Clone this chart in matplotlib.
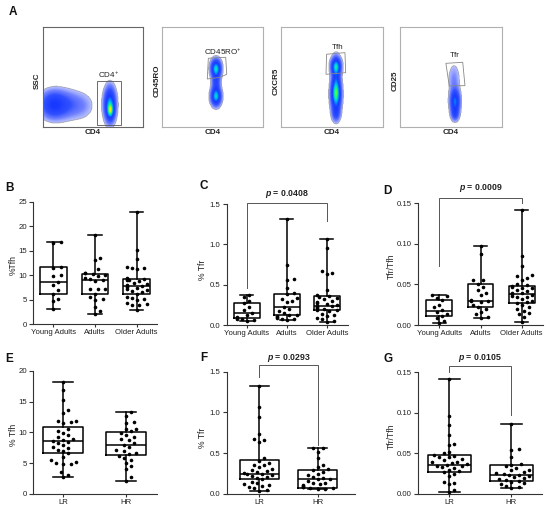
import numpy as np
import matplotlib
matplotlib.use('Agg')
import matplotlib.pyplot as plt
from matplotlib.colors import LinearSegmentedColormap
from matplotlib.patches import Polygon

plt.rcParams['font.family'] = ['Liberation Sans', 'DejaVu Sans']
plt.rcParams['mathtext.fontset'] = 'custom'
plt.rcParams['mathtext.rm'] = 'Liberation Sans'
plt.rcParams['mathtext.it'] = 'Liberation Sans:italic:bold'
plt.rcParams['mathtext.bf'] = 'Liberation Sans:bold'

W, H = 550, 515

# ---------------- data ----------------
age_groups = ['Young Adults', 'Adults', 'Older Adults']
risk_groups = ['LR', 'HR']

# B: %Tfh by age
tfh_young = [16.8, 16.6, 11.7, 11.5, 10.0, 9.8, 8.6, 8.0, 7.0, 6.1, 5.2, 4.7, 3.2]
tfh_adults = [18.2, 13.6, 13.1, 11.2, 10.5, 10.4, 10.3, 10.0, 9.8, 9.5, 9.3,
              9.0, 8.8, 7.2, 7.2, 7.1, 6.1, 5.5, 5.1, 4.9, 3.6, 2.8, 2.2]
tfh_older = [22.8, 15.2, 13.3, 11.6, 11.5, 11.4, 11.2, 9.4, 9.3, 9.2, 9.1,
             9.0, 8.8, 8.5, 8.2, 8.0, 7.9, 7.8, 7.7, 7.5, 7.2, 7.0, 6.8, 6.5,
             6.2, 5.5, 5.3, 5.1, 4.9, 4.4, 4.1, 4.0, 3.9, 2.9]
tfh_age_q1 = [6.1, 6.1, 6.2]
tfh_age_med = [8.6, 9.0, 7.9]
tfh_age_q3 = [11.6, 10.3, 9.3]

# C: %Tfr by age
tfr_young = [0.37, 0.35, 0.30, 0.27, 0.22, 0.18, 0.15, 0.12, 0.10, 0.09,
             0.08, 0.07, 0.06, 0.05]
tfr_adults = [1.32, 0.74, 0.57, 0.56, 0.46, 0.40, 0.39, 0.33, 0.32, 0.30,
              0.28, 0.22, 0.20, 0.17, 0.15, 0.13, 0.12, 0.11, 0.10, 0.09,
              0.08, 0.07, 0.06]
tfr_older = [1.07, 0.95, 0.67, 0.65, 0.63, 0.44, 0.37, 0.36, 0.35, 0.33,
             0.32, 0.30, 0.28, 0.27, 0.26, 0.25, 0.24, 0.23, 0.22, 0.21,
             0.20, 0.19, 0.18, 0.17, 0.14, 0.12, 0.11, 0.09, 0.07, 0.05, 0.04]
tfr_age_q1 = [0.09, 0.13, 0.18]
tfr_age_med = [0.15, 0.22, 0.24]
tfr_age_q3 = [0.27, 0.39, 0.36]

# D: Tfr/Tfh by age
ratio_young = [0.037, 0.036, 0.033, 0.031, 0.025, 0.022, 0.018, 0.016, 0.013,
               0.011, 0.009, 0.005, 0.003]
ratio_adults = [0.097, 0.087, 0.055, 0.055, 0.050, 0.047, 0.043, 0.040,
                0.037, 0.031, 0.030, 0.029, 0.028, 0.025, 0.022, 0.020,
                0.016, 0.013, 0.010, 0.009]
ratio_older = [0.142, 0.085, 0.073, 0.062, 0.060, 0.058, 0.056, 0.050, 0.049,
               0.048, 0.047, 0.046, 0.045, 0.043, 0.042, 0.040, 0.039, 0.038,
               0.037, 0.036, 0.035, 0.034, 0.032, 0.030, 0.028, 0.027, 0.025,
               0.022, 0.020, 0.017, 0.015, 0.014, 0.010, 0.004]
ratio_age_q1 = [0.011, 0.022, 0.027]
ratio_age_med = [0.017, 0.030, 0.038]
ratio_age_q3 = [0.031, 0.050, 0.048]

# E: %Tfh by risk
tfh_lr = [18.2, 16.8, 15.3, 13.7, 13.1, 11.9, 11.8, 11.6, 11.5, 10.5, 10.2,
          9.9, 9.5, 9.2, 9.0, 8.8, 8.6, 8.4, 8.2, 7.9, 7.7, 7.5, 7.2, 6.9,
          6.6, 6.0, 5.5, 5.2, 5.0, 4.9, 4.8, 3.6, 3.1, 2.8]
tfh_hr = [13.3, 12.6, 11.7, 11.5, 10.6, 10.5, 10.2, 9.9, 9.5, 9.2, 8.9, 8.7,
          8.3, 8.0, 7.6, 7.2, 7.0, 6.7, 6.5, 6.2, 5.9, 5.5, 5.1, 4.6, 4.0,
          2.8, 2.1]
tfh_risk_q1 = [6.6, 6.3]
tfh_risk_med = [8.6, 8.0]
tfh_risk_q3 = [10.9, 10.1]

# F: %Tfr by risk
tfr_lr = [1.32, 1.07, 0.95, 0.74, 0.67, 0.66, 0.64, 0.44, 0.40, 0.38, 0.36,
          0.35, 0.33, 0.31, 0.30, 0.28, 0.27, 0.26, 0.25, 0.24, 0.23, 0.22,
          0.21, 0.20, 0.18, 0.15, 0.13, 0.12, 0.11, 0.10, 0.09, 0.07, 0.05,
          0.04]
tfr_hr = [0.57, 0.56, 0.52, 0.44, 0.36, 0.33, 0.31, 0.30, 0.27, 0.25, 0.23,
          0.21, 0.20, 0.19, 0.18, 0.16, 0.14, 0.13, 0.12, 0.11, 0.10, 0.09,
          0.08, 0.07, 0.07, 0.06, 0.06]
tfr_risk_q1 = [0.18, 0.07]
tfr_risk_med = [0.25, 0.18]
tfr_risk_q3 = [0.42, 0.30]

# G: Tfr/Tfh by risk
ratio_lr = [0.142, 0.096, 0.085, 0.073, 0.062, 0.060, 0.052, 0.050, 0.048,
            0.047, 0.046, 0.045, 0.043, 0.042, 0.040, 0.039, 0.038, 0.037,
            0.036, 0.035, 0.034, 0.033, 0.032, 0.030, 0.028, 0.027, 0.025,
            0.022, 0.015, 0.014, 0.012, 0.005, 0.003]
ratio_hr = [0.086, 0.055, 0.054, 0.045, 0.037, 0.036, 0.034, 0.032, 0.030,
            0.029, 0.027, 0.026, 0.025, 0.024, 0.023, 0.022, 0.021, 0.020,
            0.018, 0.017, 0.016, 0.015, 0.013, 0.012, 0.010, 0.009, 0.008]
ratio_risk_q1 = [0.027, 0.016]
ratio_risk_med = [0.036, 0.024]
ratio_risk_q3 = [0.048, 0.036]

p_values = ['0.0408', '0.0009', '0.0293', '0.0105']

# A: flow populations (x, y, sd_x, sd_y, weight) on a 0-100 scale
flow_cd4 = [(10, 22, 7.5, 7.5, 0.30), (22, 22, 9, 8, 0.13), (38, 21, 8, 8, 0.05),
            (67, 22, 3.3, 9.5, 0.52), (67.5, 16, 2.0, 4.5, 0.45)]
flow_cd45ro = [(53, 58, 2.8, 5, 0.58), (53, 44, 2.4, 8, 0.22),
               (53, 30, 2.8, 5, 0.55)]
flow_cxcr5 = [(54, 60, 2.8, 5, 0.52), (54, 32, 2.8, 9, 0.62),
              (54, 46, 2.4, 12, 0.25), (54, 14, 2.4, 5, 0.2)]
flow_cd25 = [(54, 25, 2.7, 7, 0.44), (53, 46, 3.5, 10, 0.06), (54, 13, 2.3, 4, 0.18)]
flow_ylabels = ['SSC', 'CD45RO', 'CXCR5', 'CD25']
flow_gate_names = ['CD4$^{+}$', 'CD45RO$^{+}$', 'Tfh', 'Tfr']
flow_gates = [
    [(54.6, 46.0), (78.6, 46.0), (78.6, 2.3), (54.6, 2.3)],
    [(45.9, 68.6), (63.0, 69.6), (64.0, 52.7), (57.4, 49.7), (44.9, 48.0)],
    [(45.0, 72.6), (63.0, 74.2), (63.7, 54.3), (44.4, 52.7)],
    [(45.0, 63.6), (61.5, 64.6), (63.7, 41.4), (48.3, 41.1)],
]
flow_gate_label_pos = [(65.6, 52), (60, 74.6), (55.5, 79), (54, 71.2)]


def px_axes(fig, l, t, r, b):
    return fig.add_axes([l / W, 1 - b / H, (r - l) / W, (b - t) / H])


def swarm(ax, x0, ys, width):
    # spread the points sideways so that they do not overlap
    ys = np.asarray(ys, dtype=float)
    pix = ax.transData.transform(np.column_stack([np.full(len(ys), x0), ys]))
    ypix = pix[:, 1]
    per_unit = ax.transData.transform((x0 + 1, 0))[0] - pix[0, 0]
    half = per_unit * width / 2 * 0.85
    step = 2.5
    d = 5.2
    cands = [0.0]
    k = 1
    while k * step <= half:
        cands += [k * step, -k * step]
        k += 1
    placed = []
    out = np.zeros(len(ys))
    for idx in np.argsort(ys):
        y = ypix[idx]
        chosen = cands[-1]
        for c in cands:
            if all((c - px) ** 2 + (y - py) ** 2 >= d * d for px, py in placed):
                chosen = c
                break
        placed.append((chosen, y))
        out[idx] = chosen
    return x0 + out / per_unit


def box_panel(ax, groups, names, q1, med, q3, ylim, yticks, ytl, xlim, width):
    stats = []
    for i, pts in enumerate(groups):
        stats.append(dict(whislo=min(pts), q1=q1[i], med=med[i], q3=q3[i],
                          whishi=max(pts), fliers=[]))
    lp = dict(color='black', lw=1.1)
    ax.bxp(stats, positions=range(len(groups)), widths=width,
           capwidths=width * 0.5, showfliers=False, boxprops=lp,
           whiskerprops=lp, capprops=lp, medianprops=lp)
    ax.set_xlim(xlim)
    ax.set_ylim(ylim)
    for i, pts in enumerate(groups):
        xs = swarm(ax, i, pts, width)
        ax.plot(xs, pts, 'o', color='black', ms=2.6, mew=0, zorder=3,
                clip_on=False)
    ax.set_xticks(range(len(groups)))
    ax.set_xticklabels(names)
    ax.set_yticks(yticks)
    ax.set_yticklabels(ytl)
    for s in ['top', 'right']:
        ax.spines[s].set_visible(False)
    for s in ['left', 'bottom']:
        ax.spines[s].set_linewidth(0.8)
        ax.spines[s].set_color('#333333')
    ax.tick_params(axis='both', labelsize=5.6, colors='#333333',
                   labelcolor='#222222', width=0.8, pad=1.5)
    ax.tick_params(axis='y', length=3)
    ax.tick_params(axis='x', length=2)
    ax.patch.set_alpha(0)


def bracket(ax, x1, x2, y, y1_end, y2_end, ptext, ty):
    ax.plot([x1, x1, x2, x2], [y1_end, y, y, y2_end], color='#555555',
            lw=0.7, clip_on=False, solid_joinstyle='miter')
    ax.text((x1 + x2) / 2, ty, '$p$ = ' + ptext, ha='center', va='bottom',
            fontsize=6.3, fontweight='bold', color='#222222', clip_on=False)


def fig_text(fig, x, y, s, **kw):
    fig.text(x / W, 1 - y / H, s, **kw)


fig = plt.figure(figsize=(W / 100, H / 100), dpi=100)

# ---------------- panel A ----------------
cmap = LinearSegmentedColormap.from_list('flow', [
    (0.0, '#d8deff'), (0.06, '#7080ff'), (0.15, '#3050ff'), (0.35, '#1838ff'),
    (0.5, '#00a0ff'), (0.62, '#00e8c0'), (0.72, '#30ff50'), (0.86, '#ffff00'),
    (1.0, '#ff2000')])
grid = np.linspace(0, 100, 200)
gx, gy = np.meshgrid(grid, grid)
flow_boxes = [(42.7, 26.7, 142.7, 127.3), (161.7, 26.7, 263.3, 127.3),
              (280.7, 26.7, 382.7, 127.3), (400, 26.7, 502, 127.3)]
flow_pops = [flow_cd4, flow_cd45ro, flow_cxcr5, flow_cd25]
for i, (l, t, r, b) in enumerate(flow_boxes):
    ax = px_axes(fig, l, t, r, b)
    dens = np.zeros_like(gx)
    for cx, cy, sx, sy, w in flow_pops[i]:
        dens += w * np.exp(-0.5 * (((gx - cx) / sx) ** 2 + ((gy - cy) / sy) ** 2))
    dens = np.ma.masked_less(dens, 0.02)
    ax.imshow(dens, origin='lower', extent=(0, 100, 0, 100), cmap=cmap,
              vmin=0, vmax=1, interpolation='bilinear', aspect='auto')
    gate_col = '#555555' if i == 0 else '#888888'
    ax.add_patch(Polygon(flow_gates[i], closed=True, fill=False,
                         ec=gate_col, lw=0.6))
    gxl, gyl = flow_gate_label_pos[i]
    ax.text(gxl, gyl, flow_gate_names[i], ha='center', va='center',
            fontsize=5.8, color='#222222')
    ax.set_xlim(0, 100)
    ax.set_ylim(0, 100)
    ax.set_xticks([])
    ax.set_yticks([])
    for s in ax.spines.values():
        s.set_color('#666666' if i == 0 else '#b0b0b0')
        s.set_linewidth(0.8)
    fig_text(fig, (l + r) / 2, 132.5, 'CD4', ha='center', va='center',
             fontsize=5.8, fontweight='bold', color='#222222')
    fig_text(fig, l - 5, 81, flow_ylabels[i], ha='center', va='center',
             rotation=90, fontsize=5.8, fontweight='bold', color='#222222')

# ---------------- panels B-G ----------------
ax_b = px_axes(fig, 33.3, 201.7, 156.7, 324.3)
box_panel(ax_b, [tfh_young, tfh_adults, tfh_older], age_groups,
          tfh_age_q1, tfh_age_med, tfh_age_q3, (0, 25), range(0, 26, 5),
          ['0', '5', '10', '15', '20', '25'], (-0.48, 2.48), 0.64)

ax_c = px_axes(fig, 226.7, 204, 348, 325)
box_panel(ax_c, [tfr_young, tfr_adults, tfr_older], age_groups,
          tfr_age_q1, tfr_age_med, tfr_age_q3, (0, 1.5), [0, 0.5, 1.0, 1.5],
          ['0.0', '0.5', '1.0', '1.5'], (-0.5, 2.53), 0.66)
bracket(ax_c, 0, 2, 1.509, 0.455, 1.293, p_values[0], 1.545)

ax_d = px_axes(fig, 418.3, 203.3, 542.7, 325)
box_panel(ax_d, [ratio_young, ratio_adults, ratio_older], age_groups,
          ratio_age_q1, ratio_age_med, ratio_age_q3, (0, 0.15),
          [0, 0.05, 0.10, 0.15], ['0.00', '0.05', '0.10', '0.15'],
          (-0.51, 2.51), 0.63)
bracket(ax_d, 0, 2, 0.1569, 0.0731, 0.1507, p_values[1], 0.161)

ax_e = px_axes(fig, 33.3, 370.7, 156.7, 494)
box_panel(ax_e, [tfh_lr, tfh_hr], risk_groups, tfh_risk_q1, tfh_risk_med,
          tfh_risk_q3, (0, 20), range(0, 21, 5), ['0', '5', '10', '15', '20'],
          (-0.48, 1.49), 0.64)

ax_f = px_axes(fig, 226.7, 371.7, 355, 494)
box_panel(ax_f, [tfr_lr, tfr_hr], risk_groups, tfr_risk_q1, tfr_risk_med,
          tfr_risk_q3, (0, 1.5), [0, 0.5, 1.0, 1.5],
          ['0.0', '0.5', '1.0', '1.5'], (-0.56, 1.64), 0.67)
bracket(ax_f, 0, 1, 1.582, 1.431, 0.601, p_values[2], 1.600)

ax_g = px_axes(fig, 418.3, 372.3, 541.7, 494)
box_panel(ax_g, [ratio_lr, ratio_hr], risk_groups, ratio_risk_q1,
          ratio_risk_med, ratio_risk_q3, (0, 0.15), [0, 0.05, 0.10, 0.15],
          ['0.00', '0.05', '0.10', '0.15'], (-0.50, 1.49), 0.69)
bracket(ax_g, 0, 1, 0.1578, 0.150, 0.0974, p_values[3], 0.1605)

# axis titles
ylabels = [(13.3, 265, '%Tfh'), (202.7, 270, '% Tfr'), (391.7, 266.7, 'Tfr/Tfh'),
           (13.3, 435, '% Tfh'), (202.7, 438, '% Tfr'), (391.7, 436.7, 'Tfr/Tfh')]
for x, y, s in ylabels:
    fig_text(fig, x, y, s, rotation=90, ha='center', va='center',
             fontsize=6.2, color='#222222')

# panel letters
letters = [(13, 12, 'A'), (10, 188, 'B'), (203.7, 186, 'C'),
           (387, 190.5, 'D'), (8.7, 359.5, 'E'), (203.5, 358, 'F'),
           (388, 359.5, 'G')]
for x, y, s in letters:
    fig_text(fig, x, y, s, ha='center', va='center', fontsize=8.5,
             fontweight='bold', color='#111111')

fig.savefig('out.png', dpi=100)
